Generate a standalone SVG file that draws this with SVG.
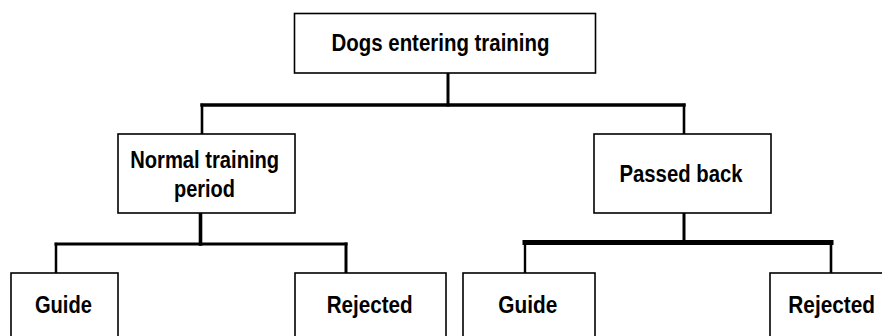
<svg xmlns="http://www.w3.org/2000/svg" width="882" height="336" viewBox="0 0 882 336">
<style>
.box{fill:#fff;stroke:#000;stroke-width:1.6}
.lbl{font-family:"Liberation Sans",Arial,sans-serif;font-weight:bold;font-size:23px;fill:#000;text-anchor:middle}
.c{stroke:#000;fill:none;stroke-linecap:square}
</style>
<rect width="882" height="336" fill="#fff"/>
<g id="connectors">
<line class="c" x1="448" y1="73" x2="448" y2="105" stroke-width="3"/>
<line class="c" x1="202" y1="105" x2="684" y2="105" stroke-width="3.4"/>
<line class="c" x1="202" y1="105" x2="202" y2="134" stroke-width="2.6"/>
<line class="c" x1="684" y1="105" x2="684" y2="134" stroke-width="2.6"/>
<line class="c" x1="200.5" y1="213" x2="200.5" y2="244" stroke-width="3.6"/>
<line class="c" x1="56" y1="244" x2="346" y2="244" stroke-width="3"/>
<line class="c" x1="56" y1="244" x2="56" y2="273" stroke-width="2.5"/>
<line class="c" x1="346" y1="244" x2="346" y2="273" stroke-width="3"/>
<line class="c" x1="684" y1="213" x2="684" y2="242" stroke-width="3"/>
<line class="c" x1="525" y1="242.5" x2="831" y2="242.5" stroke-width="5"/>
<line class="c" x1="525" y1="242.5" x2="525" y2="273" stroke-width="2.4"/>
<line class="c" x1="831" y1="242.5" x2="831" y2="273" stroke-width="2.6"/>
</g>
<g id="dogs-entering-training">
<rect class="box" x="294.5" y="13.5" width="301" height="59.5"/>
<text class="lbl" x="440.5" y="51" textLength="218" lengthAdjust="spacingAndGlyphs">Dogs entering training</text>
</g>
<g id="normal-training-period">
<rect class="box" x="118" y="134" width="177" height="79"/>
<text class="lbl" x="204.7" y="167.5" textLength="149" lengthAdjust="spacingAndGlyphs">Normal training</text>
<text class="lbl" x="204.5" y="197" textLength="61" lengthAdjust="spacingAndGlyphs">period</text>
</g>
<g id="passed-back">
<rect class="box" x="594" y="134" width="177" height="79"/>
<text class="lbl" x="681" y="181.5" textLength="123" lengthAdjust="spacingAndGlyphs">Passed back</text>
</g>
<g id="guide-1">
<rect class="box" x="11" y="273" width="107" height="70"/>
<text class="lbl" x="63.4" y="313" textLength="57" lengthAdjust="spacingAndGlyphs">Guide</text>
</g>
<g id="rejected-1">
<rect class="box" x="295" y="273" width="151" height="70"/>
<text class="lbl" x="369.7" y="313" textLength="86" lengthAdjust="spacingAndGlyphs">Rejected</text>
</g>
<g id="guide-2">
<rect class="box" x="463" y="273" width="132" height="70"/>
<text class="lbl" x="527.8" y="313" textLength="59" lengthAdjust="spacingAndGlyphs">Guide</text>
</g>
<g id="rejected-2">
<rect class="box" x="770" y="273" width="130" height="70"/>
<text class="lbl" x="831.7" y="313" textLength="86.7" lengthAdjust="spacingAndGlyphs">Rejected</text>
</g>
</svg>
